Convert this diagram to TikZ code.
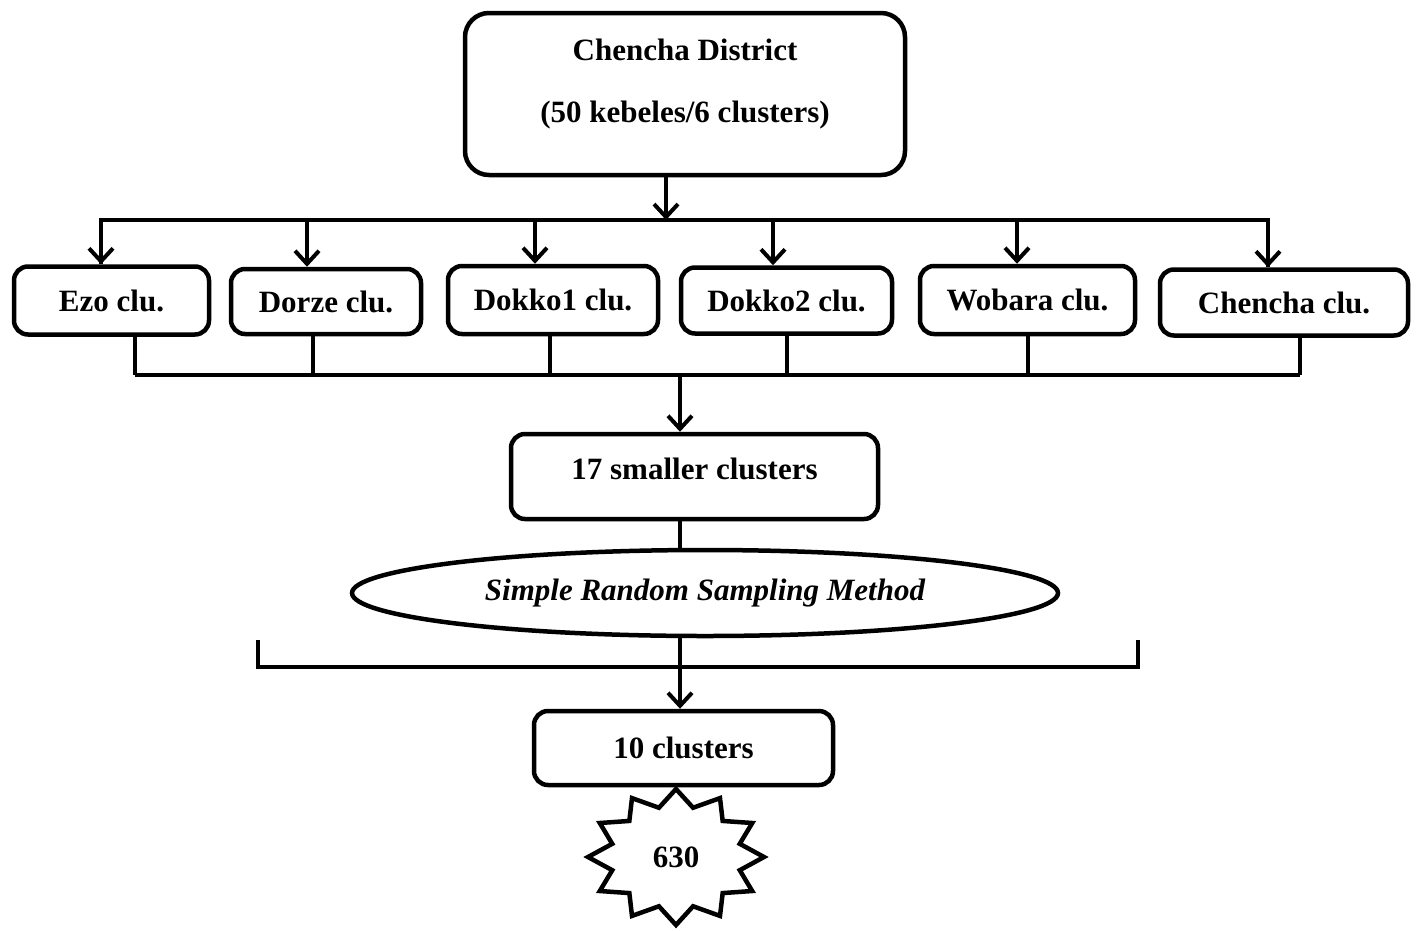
\documentclass[tikz,border=0pt]{standalone}
\usepackage{fontspec}
\setmainfont{Liberation Serif}
\usetikzlibrary{positioning,arrows.meta,shapes.geometric}

\begin{document}
\begin{tikzpicture}[
    x=1pt, y=-1pt,
    >={Straight Barb[length=13pt,width=24pt]},
    district/.style={
        draw,
        line width=4.5pt,
        rounded corners=24pt,
        font=\fontsize{31}{37}\selectfont\bfseries,
        align=center,
        inner sep=0pt,
        minimum width=440pt,
        minimum height=162pt
    },
    cluster/.style={
        draw,
        line width=4.5pt,
        rounded corners=14pt,
        font=\fontsize{31}{37}\selectfont\bfseries,
        inner sep=0pt,
        minimum height=68pt
    },
    method/.style={
        ellipse,
        draw,
        line width=4.5pt,
        font=\fontsize{31}{37}\selectfont\bfseries\itshape,
        inner sep=0pt,
        minimum width=706pt,
        minimum height=86pt
    },
    starline/.style={draw, line width=4.5pt, line join=miter},
    link/.style={line width=4pt},
    arrow/.style={->, line width=4pt}
]
\useasboundingbox (0,0) rectangle (1416,930);

% DISTRICT
\node[district] (district) at (685,94)
{Chencha District\\[25pt](50 kebeles/6 clusters)\\[-11pt]\mbox{}};

% CLUSTERS
\node[cluster, minimum width=195pt] (ezo)     at (111.5,300.5) {Ezo clu.};
\node[cluster, minimum width=190pt, minimum height=65pt] (dorze) at (326,301.5) {Dorze clu.};
\node[cluster, minimum width=210pt] (dokkoA)  at (553,300)    {Dokko1 clu.};
\node[cluster, minimum width=211pt, minimum height=66pt] (dokkoB) at (786.5,300.5) {Dokko2 clu.};
\node[cluster, minimum width=215pt] (wobara)  at (1027.5,300) {Wobara clu.};
\node[cluster, minimum width=248pt, minimum height=66pt] (chencha) at (1284,302.5) {Chencha clu.};

\coordinate (split) at (666,220);
\coordinate (merge) at (680,375);

\draw[arrow] (district.south -| split) -- (split);
\draw[link] (ezo.north -| 101,0) |- (split) -| (chencha.north -| 1268,0);

\foreach \n/\a in {ezo/-10.5, dorze/-19, dokkoA/-18, dokkoB/-13.5, wobara/-10.5, chencha/-16}
    \draw[arrow] ([xshift=\a pt]\n.north |- split) -- ([xshift=\a pt]\n.north);

\foreach \n/\b in {ezo/23.5, dorze/-13, dokkoA/-3, dokkoB/0, wobara/0.5, chencha/16}
    \draw[link] ([xshift=\b pt]\n.south) -- ([xshift=\b pt]\n.south |- merge);

\draw[link] ([xshift=23.5pt]ezo.south |- merge) -- ([xshift=16pt]chencha.south |- merge);

% SAMPLING
\node[cluster, minimum width=367pt, minimum height=85pt, text depth=16pt] (smaller) at (694.5,476.5)
{17 smaller clusters};

\draw[arrow] (merge) -- (merge |- smaller.north);

\node[method] (srs) at (705,593) {Simple Random Sampling Method};

\draw[link] (merge |- smaller.south) -- (merge |- srs.north);

\coordinate (bracket) at (680,667);
\draw[link] (258,640) -- (258,667) -- (1138,667) -- (1138,640);
\draw[link] (bracket |- srs.south) -- (bracket);

\node[cluster, minimum width=299pt, minimum height=74pt] (ten) at (683.5,748) {10 clusters};

\draw[arrow] (bracket) -- (bracket |- ten.north);

% TOTAL
\node[font=\fontsize{31}{37}\selectfont\bfseries] (total) at (676,857) {630};
\draw[starline, shift={(total)}] plot[samples at={0,...,23}, variable=\k]
    ({(mod(\k,2)==0 ? 88 : 66)*cos(90+15*\k)}, {-(mod(\k,2)==0 ? 68 : 51)*sin(90+15*\k)}) -- cycle;

\end{tikzpicture}
\end{document}
